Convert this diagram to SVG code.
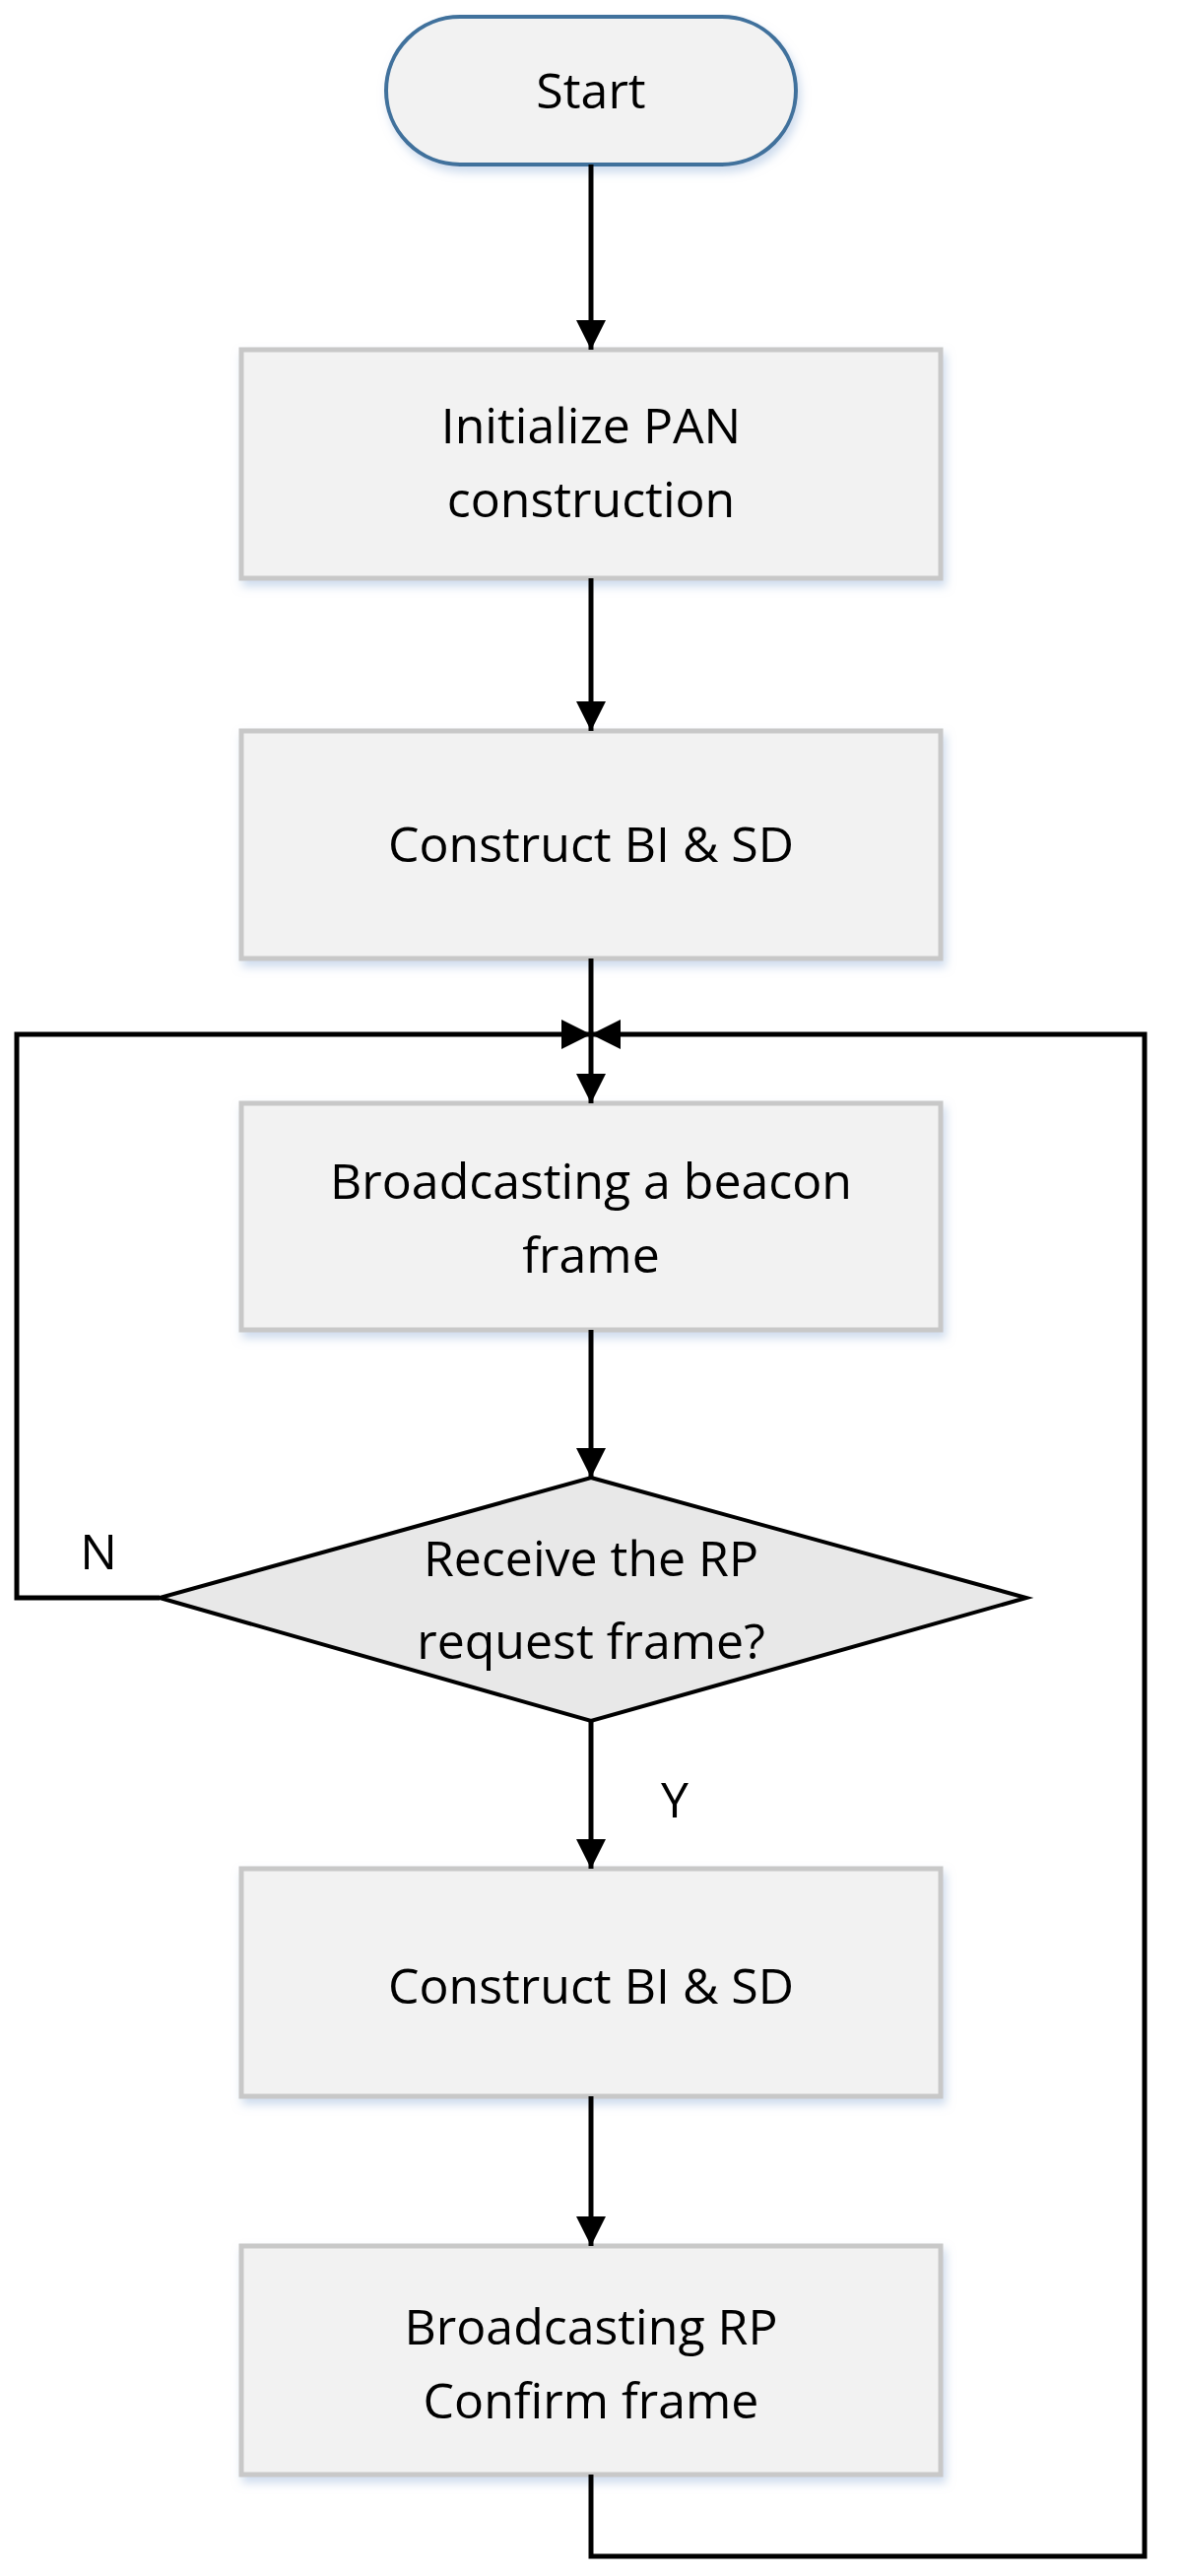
<svg xmlns="http://www.w3.org/2000/svg" width="1200" height="2615" viewBox="0 0 1200 2615">
<style>
.box{fill:#f2f2f2;stroke:#c8c8c8;stroke-width:5}
.t{font-family:"Open Sans","Liberation Sans",sans-serif;font-size:50px;fill:#000;text-anchor:middle}
.c{fill:none;stroke:#000;stroke-width:5}
</style>
<defs>
<marker id="a" viewBox="0 0 10 10" refX="10" refY="5" markerWidth="6" markerHeight="7" markerUnits="strokeWidth" orient="auto"><path d="M0,0L10,5L0,10z" fill="#000"/></marker>
<filter id="s" x="-10%" y="-10%" width="130%" height="130%"><feDropShadow dx="3" dy="6" stdDeviation="5" flood-color="#9cb8dc" flood-opacity="0.5"/></filter>
</defs>
<rect width="1200" height="2615" fill="#fff"/>
<g id="start"><rect x="392" y="17" width="416" height="150" rx="75" fill="#f2f2f2" stroke="#41719c" stroke-width="4" filter="url(#s)"/><text class="t" x="600" y="110">Start</text></g>
<g id="init"><rect class="box" x="245" y="355" width="710" height="232" filter="url(#s)"/><text class="t" x="600" y="450">Initialize PAN</text><text class="t" x="600" y="525">construction</text></g>
<g id="construct1"><rect class="box" x="245" y="742" width="710" height="231" filter="url(#s)"/><text class="t" x="600" y="875">Construct BI &amp; SD</text></g>
<g id="beacon"><rect class="box" x="245" y="1120" width="710" height="230" filter="url(#s)"/><text class="t" x="600" y="1217">Broadcasting a beacon</text><text class="t" x="600" y="1292">frame</text></g>
<g id="decision"><polygon points="600,1500 1042,1622 600,1747 162,1622" fill="#e8e8e8" stroke="#000" stroke-width="4"/><text class="t" x="600" y="1600">Receive the RP</text><text class="t" x="600" y="1684">request frame?</text></g>
<g id="construct2"><rect class="box" x="245" y="1897" width="710" height="231" filter="url(#s)"/><text class="t" x="600" y="2034">Construct BI &amp; SD</text></g>
<g id="confirm"><rect class="box" x="245" y="2280" width="710" height="232" filter="url(#s)"/><text class="t" x="600" y="2380">Broadcasting RP</text><text class="t" x="600" y="2455">Confirm frame</text></g>
<g id="connectors">
<line class="c" x1="600" y1="167" x2="600" y2="355" stroke-width="6" marker-end="url(#a)"/>
<line class="c" x1="600" y1="587" x2="600" y2="742" marker-end="url(#a)"/>
<line class="c" x1="600" y1="973" x2="600" y2="1120" marker-end="url(#a)"/>
<line class="c" x1="600" y1="1350" x2="600" y2="1500" marker-end="url(#a)"/>
<line class="c" x1="600" y1="1747" x2="600" y2="1897" marker-end="url(#a)"/>
<line class="c" x1="600" y1="2128" x2="600" y2="2280" marker-end="url(#a)"/>
<polyline class="c" points="162,1622 17,1622 17,1050 600,1050" marker-end="url(#a)"/>
<polyline class="c" points="600,2512 600,2595 1162,2595 1162,1050 600,1050" marker-end="url(#a)"/>
<text class="t" x="100" y="1593">N</text>
<text class="t" x="685" y="1845">Y</text>
</g>
</svg>
